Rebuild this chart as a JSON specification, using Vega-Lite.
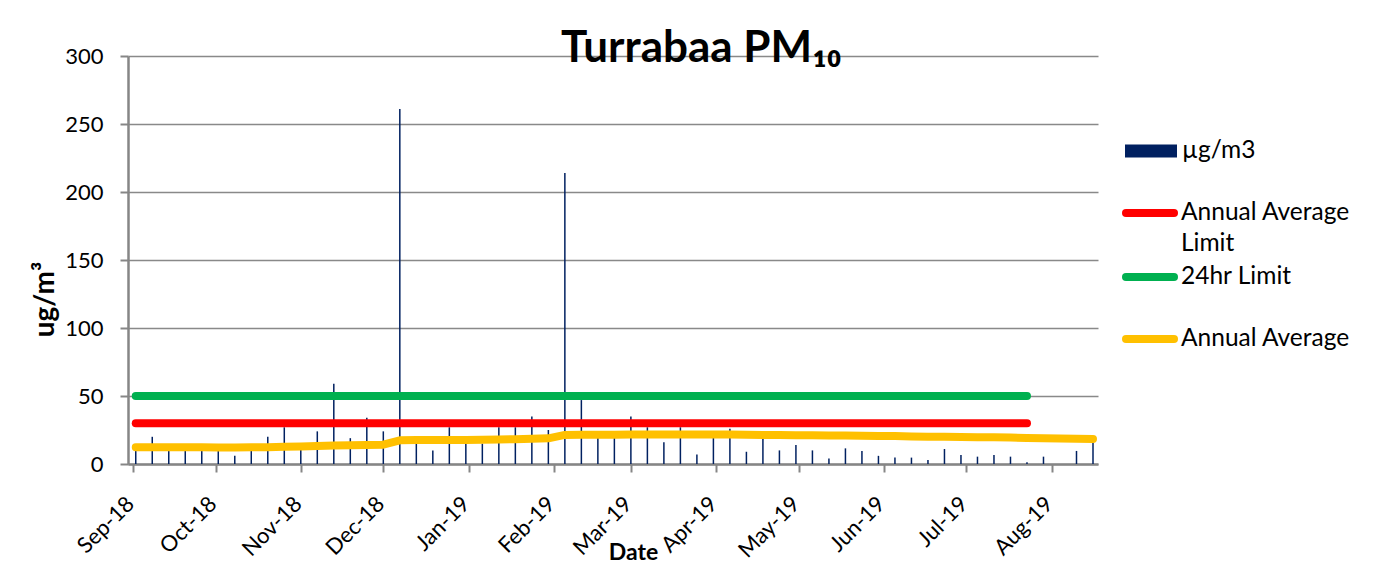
{
  "$schema": "https://vega.github.io/schema/vega-lite/v6.json",
  "width": 970,
  "height": 408,
  "autosize": {"type": "none"},
  "padding": {"left": 128, "top": 56, "right": 295, "bottom": 104},
  "background": "white",
  "config": {"font": "Lato", "view": {"stroke": null}},
  "title": {"text": "Turrabaa PM₁₀", "anchor": "start", "frame": "group", "dx": 433, "dy": 61, "offset": 0, "baseline": "alphabetic", "fontSize": 44, "fontWeight": "bold", "color": "black", "font": "Lato"},
  "data": {"values": [
    {"date": "2018-09-02", "pm10": 11, "avg": 12.3, "lim_ann": 30, "lim_24": 50},
    {"date": "2018-09-08", "pm10": 20, "avg": 12.4, "lim_ann": 30, "lim_24": 50},
    {"date": "2018-09-14", "pm10": 11, "avg": 12.4, "lim_ann": 30, "lim_24": 50},
    {"date": "2018-09-20", "pm10": 11, "avg": 12.3, "lim_ann": 30, "lim_24": 50},
    {"date": "2018-09-26", "pm10": 11, "avg": 12.3, "lim_ann": 30, "lim_24": 50},
    {"date": "2018-10-02", "pm10": 10, "avg": 12.2, "lim_ann": 30, "lim_24": 50},
    {"date": "2018-10-08", "pm10": 6, "avg": 12.2, "lim_ann": 30, "lim_24": 50},
    {"date": "2018-10-14", "pm10": 11, "avg": 12.3, "lim_ann": 30, "lim_24": 50},
    {"date": "2018-10-20", "pm10": 20, "avg": 12.3, "lim_ann": 30, "lim_24": 50},
    {"date": "2018-10-26", "pm10": 27, "avg": 12.6, "lim_ann": 30, "lim_24": 50},
    {"date": "2018-11-01", "pm10": 12, "avg": 12.9, "lim_ann": 30, "lim_24": 50},
    {"date": "2018-11-07", "pm10": 24, "avg": 13.2, "lim_ann": 30, "lim_24": 50},
    {"date": "2018-11-13", "pm10": 59, "avg": 13.6, "lim_ann": 30, "lim_24": 50},
    {"date": "2018-11-19", "pm10": 19, "avg": 13.8, "lim_ann": 30, "lim_24": 50},
    {"date": "2018-11-25", "pm10": 34, "avg": 14.0, "lim_ann": 30, "lim_24": 50},
    {"date": "2018-12-01", "pm10": 24, "avg": 14.2, "lim_ann": 30, "lim_24": 50},
    {"date": "2018-12-07", "pm10": 261, "avg": 17.4, "lim_ann": 30, "lim_24": 50},
    {"date": "2018-12-13", "pm10": 16, "avg": 17.6, "lim_ann": 30, "lim_24": 50},
    {"date": "2018-12-19", "pm10": 10, "avg": 17.6, "lim_ann": 30, "lim_24": 50},
    {"date": "2018-12-25", "pm10": 27, "avg": 17.7, "lim_ann": 30, "lim_24": 50},
    {"date": "2018-12-31", "pm10": 15, "avg": 17.7, "lim_ann": 30, "lim_24": 50},
    {"date": "2019-01-06", "pm10": 15, "avg": 17.8, "lim_ann": 30, "lim_24": 50},
    {"date": "2019-01-12", "pm10": 27, "avg": 18.0, "lim_ann": 30, "lim_24": 50},
    {"date": "2019-01-18", "pm10": 27, "avg": 18.2, "lim_ann": 30, "lim_24": 50},
    {"date": "2019-01-24", "pm10": 35, "avg": 18.5, "lim_ann": 30, "lim_24": 50},
    {"date": "2019-01-30", "pm10": 25, "avg": 18.9, "lim_ann": 30, "lim_24": 50},
    {"date": "2019-02-05", "pm10": 214, "avg": 21.4, "lim_ann": 30, "lim_24": 50},
    {"date": "2019-02-11", "pm10": 47, "avg": 21.5, "lim_ann": 30, "lim_24": 50},
    {"date": "2019-02-17", "pm10": 24, "avg": 21.5, "lim_ann": 30, "lim_24": 50},
    {"date": "2019-02-23", "pm10": 20, "avg": 21.5, "lim_ann": 30, "lim_24": 50},
    {"date": "2019-03-01", "pm10": 35, "avg": 21.6, "lim_ann": 30, "lim_24": 50},
    {"date": "2019-03-07", "pm10": 27, "avg": 21.6, "lim_ann": 30, "lim_24": 50},
    {"date": "2019-03-13", "pm10": 16, "avg": 21.6, "lim_ann": 30, "lim_24": 50},
    {"date": "2019-03-19", "pm10": 27, "avg": 21.7, "lim_ann": 30, "lim_24": 50},
    {"date": "2019-03-25", "pm10": 7, "avg": 21.7, "lim_ann": 30, "lim_24": 50},
    {"date": "2019-03-31", "pm10": 20, "avg": 21.7, "lim_ann": 30, "lim_24": 50},
    {"date": "2019-04-06", "pm10": 26, "avg": 21.6, "lim_ann": 30, "lim_24": 50},
    {"date": "2019-04-12", "pm10": 9, "avg": 21.5, "lim_ann": 30, "lim_24": 50},
    {"date": "2019-04-18", "pm10": 20, "avg": 21.4, "lim_ann": 30, "lim_24": 50},
    {"date": "2019-04-24", "pm10": 10, "avg": 21.3, "lim_ann": 30, "lim_24": 50},
    {"date": "2019-04-30", "pm10": 14, "avg": 21.2, "lim_ann": 30, "lim_24": 50},
    {"date": "2019-05-06", "pm10": 10, "avg": 21.1, "lim_ann": 30, "lim_24": 50},
    {"date": "2019-05-12", "pm10": 4, "avg": 21.0, "lim_ann": 30, "lim_24": 50},
    {"date": "2019-05-18", "pm10": 11.5, "avg": 20.9, "lim_ann": 30, "lim_24": 50},
    {"date": "2019-05-24", "pm10": 9.6, "avg": 20.8, "lim_ann": 30, "lim_24": 50},
    {"date": "2019-05-30", "pm10": 6, "avg": 20.6, "lim_ann": 30, "lim_24": 50},
    {"date": "2019-06-05", "pm10": 4.7, "avg": 20.5, "lim_ann": 30, "lim_24": 50},
    {"date": "2019-06-11", "pm10": 4.7, "avg": 20.3, "lim_ann": 30, "lim_24": 50},
    {"date": "2019-06-17", "pm10": 3, "avg": 20.1, "lim_ann": 30, "lim_24": 50},
    {"date": "2019-06-23", "pm10": 11, "avg": 20.0, "lim_ann": 30, "lim_24": 50},
    {"date": "2019-06-29", "pm10": 6.6, "avg": 19.9, "lim_ann": 30, "lim_24": 50},
    {"date": "2019-07-05", "pm10": 5.4, "avg": 19.7, "lim_ann": 30, "lim_24": 50},
    {"date": "2019-07-11", "pm10": 6.6, "avg": 19.6, "lim_ann": 30, "lim_24": 50},
    {"date": "2019-07-17", "pm10": 5.4, "avg": 19.4, "lim_ann": 30, "lim_24": 50},
    {"date": "2019-07-23", "pm10": 1.2, "avg": 19.2, "lim_ann": 30, "lim_24": 50},
    {"date": "2019-07-29", "pm10": 5.4, "avg": 19.0},
    {"date": "2019-08-04", "pm10": 0, "avg": 18.8},
    {"date": "2019-08-10", "pm10": 9.6, "avg": 18.6},
    {"date": "2019-08-16", "pm10": 15.7, "avg": 18.4}
  ]},
  "encoding": {
    "x": {
      "field": "date", "type": "temporal",
      "scale": {"type": "utc", "domain": [{"year": 2018, "month": 9, "date": 1, "utc": true}, {"year": 2019, "month": 8, "date": 16, "utc": true}]},
      "axis": {
        "title": "Date", "titleFontSize": 23, "titleFontWeight": "bold", "titleColor": "black",
        "titleX": 505, "titleY": 95, "titleBaseline": "alphabetic", "titleAlign": "center",
        "format": "%b-%y", "tickCount": {"interval": "month", "step": 1},
        "labelAngle": -45, "labelAlign": "right", "labelBaseline": "middle",
        "labelFontSize": 22, "labelColor": "black", "labelPadding": 28, "labelOffset": -3,
        "labelOverlap": false, "labelBound": false, "labelFlush": false,
        "tickSize": 8, "tickColor": "#868686", "tickWidth": 2,
        "domainColor": "#868686", "domainWidth": 2.5, "grid": false
      }
    }
  },
  "resolve": {"scale": {"stroke": "independent"}, "legend": {"stroke": "independent"}},
  "layer": [
    {
      "mark": {"type": "bar", "width": 1.5, "clip": false},
      "encoding": {
        "y": {
          "field": "pm10", "type": "quantitative", "scale": {"domain": [0, 300]},
          "axis": {
            "title": "ug/m³", "titleFontSize": 28, "titleFontWeight": "bold", "titleColor": "black",
            "titleAngle": 270, "titleX": -75, "titleY": 243, "titleAlign": "center", "titleBaseline": "alphabetic",
            "values": [0, 50, 100, 150, 200, 250, 300],
            "labelFontSize": 22, "labelColor": "black", "labelPadding": 17,
            "grid": true, "gridColor": "#898989", "gridWidth": 1.5,
            "tickSize": 8, "tickColor": "#868686", "tickWidth": 2,
            "domainColor": "#868686", "domainWidth": 2.5
          }
        },
        "color": {
          "datum": "µg/m3", "type": "nominal",
          "scale": {"domain": ["µg/m3"], "range": ["#002060"]},
          "legend": {
            "orient": "none", "legendX": 997, "legendY": 69, "title": null, "padding": 0,
            "symbolType": "M-1,-0.25H1V0.25H-1Z", "symbolSize": 2704, "symbolStrokeWidth": 0, "symbolOpacity": 1,
            "labelFontSize": 24.5, "labelColor": "black", "labelOffset": 5
          }
        }
      }
    },
    {
      "mark": {"type": "line", "strokeWidth": 8, "strokeCap": "round", "strokeJoin": "round", "clip": false},
      "encoding": {
        "y": {"field": "lim_ann", "type": "quantitative", "axis": {"title": "ug/m³"}},
        "stroke": {
          "datum": "Annual Average Limit", "type": "nominal",
          "scale": {"range": ["#FF0000"]},
          "legend": {
            "orient": "none", "legendX": 994, "legendY": 129, "title": null, "padding": 0,
            "symbolType": "stroke", "symbolSize": 2304, "symbolStrokeWidth": 8,
            "labelFontSize": 24.5, "labelColor": "black", "labelOffset": 3, "labelLimit": 400,
            "labelExpr": "['Annual Average', 'Limit']",
            "encoding": {
              "labels": {"lineHeight": {"value": 31}},
              "symbols": {"strokeCap": {"value": "round"}}
            }
          }
        }
      }
    },
    {
      "mark": {"type": "line", "strokeWidth": 8, "strokeCap": "round", "strokeJoin": "round", "clip": false},
      "encoding": {
        "y": {"field": "lim_24", "type": "quantitative", "axis": {"title": "ug/m³"}},
        "stroke": {
          "datum": "24hr Limit", "type": "nominal",
          "scale": {"range": ["#00B050"]},
          "legend": {
            "orient": "none", "legendX": 994, "legendY": 193, "title": null, "padding": 0,
            "symbolType": "stroke", "symbolSize": 2304, "symbolStrokeWidth": 8,
            "labelFontSize": 24.5, "labelColor": "black", "labelOffset": 3, "labelLimit": 400,
            "encoding": {
              "symbols": {"strokeCap": {"value": "round"}}
            }
          }
        }
      }
    },
    {
      "mark": {"type": "line", "strokeWidth": 8, "strokeCap": "round", "strokeJoin": "round", "clip": false},
      "encoding": {
        "y": {"field": "avg", "type": "quantitative", "axis": {"title": "ug/m³"}},
        "stroke": {
          "datum": "Annual Average", "type": "nominal",
          "scale": {"range": ["#FFC000"]},
          "legend": {
            "orient": "none", "legendX": 994, "legendY": 255, "title": null, "padding": 0,
            "symbolType": "stroke", "symbolSize": 2304, "symbolStrokeWidth": 8,
            "labelFontSize": 24.5, "labelColor": "black", "labelOffset": 3, "labelLimit": 400,
            "encoding": {
              "symbols": {"strokeCap": {"value": "round"}}
            }
          }
        }
      }
    }
  ]
}
